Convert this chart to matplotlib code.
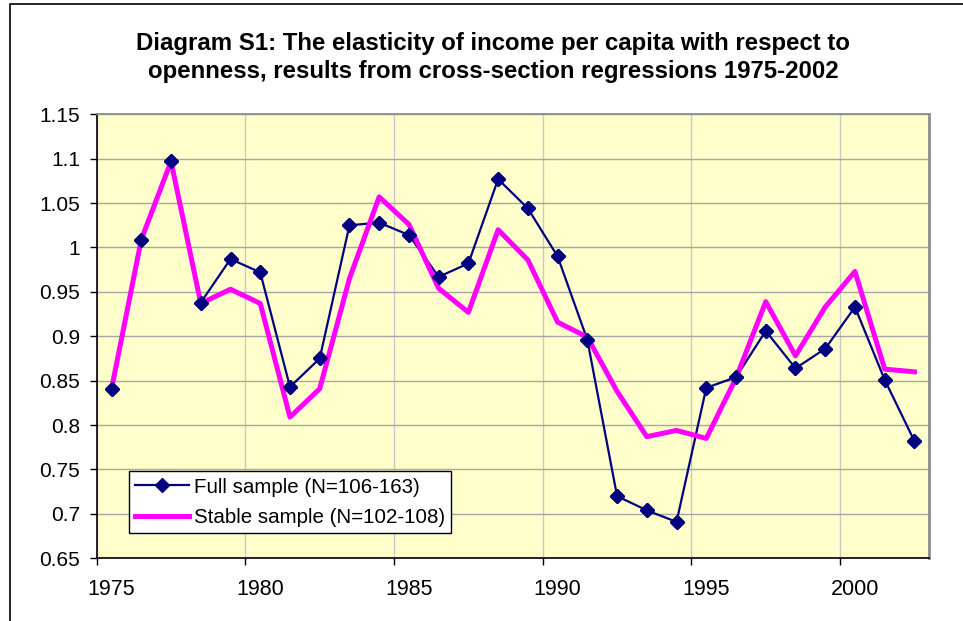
import matplotlib
matplotlib.use('Agg')
import matplotlib.pyplot as plt
from matplotlib.patches import Rectangle
import numpy as np

# Data
years = list(range(1975, 2003))
full_sample = [0.841, 1.009, 1.097, 0.938, 0.987, 0.972, 0.843, 0.875, 1.025, 1.028,
               1.014, 0.967, 0.982, 1.077, 1.044, 0.990, 0.896, 0.720, 0.704, 0.691,
               0.842, 0.854, 0.906, 0.864, 0.886, 0.933, 0.851, 0.782]
stable_sample = [0.841, 1.009, 1.097, 0.937, 0.953, 0.937, 0.809, 0.841, 0.965, 1.057,
                 1.026, 0.954, 0.927, 1.020, 0.986, 0.916, 0.899, 0.838, 0.787, 0.794,
                 0.785, 0.853, 0.939, 0.878, 0.933, 0.973, 0.863, 0.860]
label_years = [1975, 1980, 1985, 1990, 1995, 2000]
y_ticks = [0.65, 0.7, 0.75, 0.8, 0.85, 0.9, 0.95, 1.0, 1.05, 1.1, 1.15]

title = ("Diagram S1: The elasticity of income per capita with respect to\n"
         "openness, results from cross-section regressions 1975-2002")
full_label = "Full sample (N=106-163)"
stable_label = "Stable sample (N=102-108)"

plt.rcParams['font.family'] = ['Liberation Sans', 'DejaVu Sans']

W, H = 963, 621
fig = plt.figure(figsize=(W / 100, H / 100), dpi=100)
fig.patch.set_facecolor('white')

# outer chart frame (only top and left edges visible)
fig.add_artist(Rectangle((10 / W, -0.2), 1.5, 1.2 - 4 / H, transform=fig.transFigure,
                         fill=False, edgecolor='black', linewidth=1.2))

ax = fig.add_axes([96.7 / W, (H - 558.3) / H, 832.6 / W, 444 / H])
ax.set_facecolor('#FFFFCC')

ax.plot(years, full_sample, color='#000080', linewidth=1.6, marker='D',
        markersize=6.8, markerfacecolor='#000080', markeredgecolor='#000080',
        label=full_label, zorder=3)
ax.plot(years, stable_sample, color='#FF00FF', linewidth=3.6,
        label=stable_label, zorder=4)
ax.plot(years, full_sample, linestyle='none', marker='D', markersize=6.8,
        color='#000080', zorder=5)

ax.set_xlim(1974.5, 2002.5)
ax.set_ylim(0.65, 1.15)

# category-style x axis: ticks between categories, labels on categories
ax.set_xticks([y - 0.5 for y in label_years])
ax.set_xticklabels([])
ax.set_xticks(label_years, minor=True)
ax.set_xticklabels([str(y) for y in label_years], minor=True)
ax.tick_params(axis='x', which='major', direction='out', length=5, width=1, color='black')
ax.tick_params(axis='x', which='minor', length=0, pad=15, labelsize=15.5)

ax.set_yticks(y_ticks)
ax.set_yticklabels([f"{v:g}" for v in y_ticks])
ax.tick_params(axis='y', direction='out', length=5, width=1, pad=7, labelsize=15)

ax.grid(axis='y', color='#A6A6A6', linewidth=1.0, zorder=0)
ax.grid(axis='x', which='major', color='#C8C8C8', linewidth=1.0, zorder=0)
ax.set_axisbelow(True)

for side in ('left', 'bottom'):
    ax.spines[side].set_color('black')
    ax.spines[side].set_linewidth(1.2)
ax.spines['top'].set_color('#8C8C8C')
ax.spines['top'].set_linewidth(1.3)
ax.spines['right'].set_color('#8C8C8C')
ax.spines['right'].set_linewidth(2.0)

leg = ax.legend(loc='lower left', bbox_to_anchor=(0.0388, 0.057), borderaxespad=0,
                fontsize=14.8, frameon=True, fancybox=False, edgecolor='black',
                facecolor='white', framealpha=1, handlelength=2.6,
                handletextpad=0.25, labelspacing=0.55, borderpad=0.3)
leg.get_frame().set_linewidth(1.0)

fig.text(0.512, 1 - 57.5 / H, title, ha='center', va='center', fontsize=17.3,
         fontweight='bold', linespacing=1.32)

fig.savefig('out.png', dpi=100)
